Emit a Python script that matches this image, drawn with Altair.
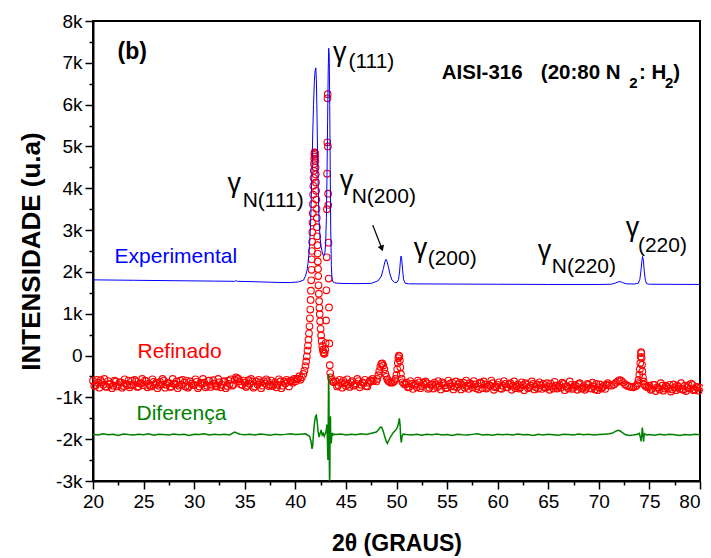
import altair as alt
import pandas as pd

FONT = "Liberation Sans"

# ---------------- Experimental (blue line) ----------------
exp_x = [20, 24, 28, 32, 34, 34.1, 34.3, 36, 38, 39.5,
         40.3, 40.8, 41.0, 41.15, 41.25, 41.35, 41.45, 41.52, 41.58, 41.65,
         41.72, 41.8, 41.88, 41.95, 42.02, 42.08, 42.14, 42.2, 42.27, 42.35,
         42.45, 42.55, 42.65, 42.75, 42.83, 42.92, 43.0, 43.07, 43.13, 43.19,
         43.25, 43.3, 43.35, 43.4, 43.45, 43.5, 43.56, 43.62, 43.72, 43.9,
         44.5, 46, 47.5, 48.2, 48.5, 48.7, 48.85, 48.95, 49.05, 49.2,
         49.35, 49.55, 49.8, 50.05, 50.2, 50.3, 50.38, 50.45, 50.52, 50.6,
         50.7, 50.85, 51.2, 55, 60, 65, 70, 71.2, 71.6, 71.9,
         72.1, 72.35, 72.7, 73.5, 73.9, 74.05, 74.15, 74.25, 74.32, 74.4,
         74.5, 74.6, 74.72, 75, 80]
exp_y = [1810, 1800, 1790, 1780, 1775, 1790, 1775, 1765, 1750, 1745,
         1760, 1800, 1900, 2030, 2200, 2450, 2850, 3250, 3800, 4500,
         5300, 6000, 6550, 6800, 6880, 6600, 5800, 4800, 3900, 3200,
         2800, 2600, 2480, 2400, 2390, 2450, 2700, 3300, 4300, 5600,
         6800, 7350, 7150, 6000, 4400, 3000, 2150, 1850, 1760, 1735,
         1725, 1720, 1725, 1790, 1900, 2080, 2240, 2300, 2260, 2120,
         1950, 1810, 1745, 1750, 1820, 2000, 2250, 2380, 2300, 2050,
         1820, 1730, 1715, 1710, 1705, 1700, 1700, 1705, 1730, 1760,
         1770, 1745, 1715, 1710, 1730, 1820, 2000, 2250, 2370, 2280,
         2000, 1800, 1720, 1705, 1700]

# ---------------- Refinado (red open circles) ----------------
# flat stretches sampled on regular 2-theta grids (start, step, values)
ref_flat1 = (20.0, 0.25, [
    -600, -720, -650, -590, -700, -740, -610, -670, -720, -620,
    -700, -640, -730, -680, -600, -710, -690, -620, -740, -660,
    -710, -610, -680, -740, -630, -650, -720, -690, -600, -700,
    -660, -740, -680, -620, -720, -700, -650, -600, -730, -670,
    -700, -630, -740, -680, -650, -720, -600, -700, -670, -740,
    -640, -700, -620, -730, -680, -720, -580, -540, -620, -700,
    -650, -720, -680, -620, -740, -690, -640, -720, -670, -610,
    -700, -730, -640, -700, -620, -720, -670, -630, -600, -650,
    -620, -560])
ref_flat1b = (20.125, 0.25, [
    -720, -580, -770, -640, -560, -750, -690, -780, -600, -740,
    -640, -770, -570, -710, -760, -600, -580, -750, -670, -560,
    -600, -760, -720, -570, -690, -780, -630, -560, -770, -650,
    -750, -560, -680, -780, -600, -580, -740, -770, -620, -710,
    -570, -780, -650, -560, -760, -600, -750, -590, -720, -560,
    -760, -620, -780, -600, -570, -700, -520, -560, -690, -600,
    -750, -590, -560, -770, -620, -580, -780, -610, -570, -730,
    -600, -690, -760, -570, -780, -620, -580, -740, -610, -560,
    -560, -500])
ref_flat2 = (44.0, 0.25, [-620, -710, -660, -600, -730, -680, -640, -720,
                          -670, -610, -700, -660, -730, -650, -620, -600])
ref_flat2b = (44.125, 0.25, [-740, -580, -770, -660, -570, -750, -610, -700,
                             -560, -760, -640, -580, -740, -600, -560])
ref_flat3 = (51.0, 0.25, [
    -650, -750, -680, -700, -760, -640, -730, -700, -660, -770,
    -690, -650, -760, -720, -640, -710, -770, -680, -650, -740,
    -760, -650, -700, -770, -720, -660, -760, -690, -730, -650,
    -780, -690, -750, -720, -660, -760, -700, -780, -720, -680,
    -760, -660, -720, -780, -690, -760, -710, -660, -780, -720,
    -680, -750, -790, -710, -680, -770, -740, -670, -790, -720,
    -740, -770, -680, -740, -790, -700, -770, -730, -680, -790,
    -730, -770, -700, -790, -740, -680, -760, -790, -720, -700,
    -710])
ref_flat3b = (51.125, 0.25, [
    -760, -610, -800, -680, -600, -780, -650, -620, -800, -700,
    -790, -700, -610, -810, -660, -780, -600, -740, -810, -620,
    -690, -810, -650, -600, -800, -700, -610, -780, -810, -660,
    -620, -790, -700, -600, -820, -740, -640, -800, -610, -760,
    -690, -820, -620, -740, -790, -640, -830, -700, -760, -620,
    -810, -690, -640, -800, -760, -660, -820, -740, -630, -790,
    -700, -650, -830, -740, -620, -800, -700, -820, -660, -780,
    -820, -680, -780, -650, -810, -830, -690, -760, -800, -660])
ref_flat4 = (75.0, 0.25, [-720, -800, -700, -760, -810, -720, -790, -750, -700, -810,
                          -760, -720, -800, -810, -720, -760, -790, -700, -810, -750,
                          -770])
ref_flat4b = (75.125, 0.25, [-820, -700, -850, -770, -660, -840, -720, -790, -860, -690,
                             -830, -750, -660, -820, -850, -710, -670, -830, -760, -840])

ref_pk1_x = [40.5, 40.65, 40.8, 40.9, 41.0, 41.07, 41.14, 41.2, 41.25, 41.3,
             41.35, 41.4, 41.44, 41.48, 41.51, 41.54, 41.57, 41.6, 41.62, 41.64,
             41.66, 41.68, 41.7, 41.72, 41.74, 41.76, 41.78, 41.8, 41.82, 41.84,
             41.86, 41.88, 41.9, 41.92, 41.94, 41.96, 41.98, 42.0, 42.02, 42.04,
             42.06, 42.08, 42.1, 42.12, 42.14, 42.16, 42.18, 42.2, 42.22, 42.24,
             42.26, 42.29, 42.32, 42.35, 42.38, 42.41, 42.45, 42.5, 42.55, 42.6,
             42.66, 42.72, 42.78, 42.84, 42.9, 42.95, 43.0, 43.04, 43.07, 43.1,
             43.12, 43.14, 43.16, 43.18, 43.2, 43.22, 43.24, 43.26, 43.28, 43.3,
             43.33, 43.36, 43.4, 43.45, 43.52, 43.6, 43.7, 43.8]
ref_pk1_y = [-580, -520, -440, -360, -250, -140, -20, 120, 240, 380,
             530, 700, 890, 1100, 1330, 1550, 1800, 2050, 2300, 2500,
             2720, 2950, 3180, 3400, 3620, 3850, 4060, 4250, 4420, 4580,
             4700, 4800, 4850, 4860, 4830, 4760, 4650, 4500, 4330, 4140,
             3940, 3730, 3510, 3290, 3070, 2850, 2640, 2440, 2250, 2070,
             1900, 1680, 1480, 1300, 1140, 990, 820, 640, 480, 350,
             230, 140, 80, 40, 50, 140, 300, 840, 1560, 2350,
             3500, 4350, 5100, 6150, 6250, 5000, 3870, 3600, 2700, 1840,
             1150, 290, -230, -420, -520, -580, -620, -640]
ref_pk2_x = [48.0, 48.1, 48.2, 48.3, 48.4, 48.5, 48.6, 48.7, 48.8, 48.9,
             49.0, 49.1, 49.2, 49.35, 49.5, 49.65, 49.8, 49.9, 50.0, 50.07,
             50.13, 50.18, 50.23, 50.28, 50.33, 50.38, 50.43, 50.5, 50.6, 50.75,
             50.9]
ref_pk2_y = [-620, -560, -470, -370, -270, -200, -190, -240, -330, -430,
             -510, -570, -610, -640, -650, -640, -610, -560, -460, -330,
             -180, -60, 0, -20, -120, -280, -440, -560, -640, -680,
             -690]
ref_pk3_x = [71.25, 71.5, 71.7, 71.9, 72.05, 72.2, 72.4, 72.6, 72.8, 73.0,
             73.2, 73.4, 73.6, 73.75, 73.85, 73.93, 74.0, 74.05, 74.1, 74.14,
             74.17, 74.2, 74.23, 74.27, 74.31, 74.36, 74.42, 74.5, 74.6, 74.75,
             74.9]
ref_pk3_y = [-720, -690, -650, -610, -590, -600, -640, -690, -720, -740,
             -750, -760, -740, -710, -660, -580, -460, -330, -180, -30,
             80, 60, -60, -220, -380, -520, -620, -690, -730, -750,
             -760]

# ---------------- Diferença (green line) ----------------
dif_flat1 = (20.0, 0.5, [
    -1880, -1900, -1870, -1895, -1885, -1910, -1875, -1890, -1900, -1880,
    -1895, -1870, -1905, -1885, -1890, -1900, -1875, -1895, -1880, -1910,
    -1885, -1890, -1870, -1900, -1885, -1895, -1880, -1900, -1830, -1880,
    -1895, -1885, -1900, -1875, -1890, -1905, -1880, -1895, -1885, -1870,
    -1890, -1880, -1870])
dif_pk1_x = [41.2, 41.4, 41.55, 41.65, 41.72, 41.8, 41.9, 42.0, 42.08, 42.15,
             42.25, 42.35, 42.45, 42.55, 42.65, 42.75, 42.85, 42.95, 43.05, 43.12,
             43.18, 43.22, 43.26, 43.29, 43.32, 43.35, 43.38, 43.41, 43.44, 43.47,
             43.5, 43.55, 43.62, 43.7, 43.8]
dif_pk1_y = [-1900, -1930, -2050, -2230, -2150, -1850, -1600, -1450, -1430, -1560,
             -1820, -1950, -1860, -1780, -1900, -1860, -1930, -1870, -1800, -1650,
             -2100, -2500, -1400, -450, -900, -2200, -3000, -2900, -1600, -1450,
             -2000, -2100, -1850, -1900, -1880]
dif_flat2 = (44.0, 0.5, [-1890, -1875, -1900, -1880, -1895, -1870, -1885, -1860, -1830])
dif_pk2_x = [48.2, 48.4, 48.55, 48.7, 48.85, 49.0, 49.1, 49.25, 49.45, 49.65,
             49.85, 50.0, 50.1, 50.2, 50.28, 50.35, 50.42, 50.48, 50.55, 50.65]
dif_pk2_y = [-1780, -1710, -1720, -1820, -1950, -2060, -2100, -2020, -1930, -1850,
             -1800, -1760, -1700, -1620, -1500, -1650, -1980, -2080, -1930, -1880]
dif_flat3 = (51.0, 0.5, [
    -1890, -1900, -1880, -1905, -1885, -1895, -1875, -1900, -1890, -1910,
    -1880, -1895, -1900, -1885, -1870, -1900, -1890, -1905, -1880, -1895,
    -1885, -1900, -1875, -1895, -1890, -1910, -1880, -1900, -1885, -1895,
    -1905, -1880, -1890, -1900, -1875, -1895, -1885, -1900, -1890, -1880,
    -1870])
dif_pk3_x = [71.3, 71.6, 71.9, 72.1, 72.3, 72.6, 73.0, 73.4, 73.8, 74.0,
             74.1, 74.18, 74.24, 74.3, 74.36, 74.42, 74.48, 74.55, 74.7]
dif_pk3_y = [-1860, -1820, -1790, -1800, -1840, -1890, -1910, -1900, -1880, -1860,
             -1950, -2050, -1900, -1720, -1850, -2060, -1900, -1870, -1900]
dif_flat4 = (75.0, 0.5, [-1890, -1905, -1885, -1900, -1880, -1895, -1910, -1890,
                         -1900, -1885, -1895])

# ---------------- axes ----------------
x_ticks = [20, 22.5, 25, 27.5, 30, 32.5, 35, 37.5, 40, 42.5, 45, 47.5, 50,
           52.5, 55, 57.5, 60, 62.5, 65, 67.5, 70, 72.5, 75, 77.5, 80]
y_ticks = [-3000, -2500, -2000, -1500, -1000, -500, 0, 500, 1000, 1500, 2000,
           2500, 3000, 3500, 4000, 4500, 5000, 5500, 6000, 6500, 7000, 7500, 8000]

# ---------------- annotations ----------------
gamma_x = [43.72, 33.3, 44.38, 51.7, 63.97, 72.67]
gamma_y = [7044, 3911, 3983, 2357, 2309, 2859]
sub_text = ["(111)", "N(111)", "N(200)", "(200)", "N(220)", "(220)"]
sub_x = [45.25, 34.79, 45.57, 53.08, 65.35, 73.86]
sub_y = [6869, 3552, 3648, 2165, 1974, 2476]
series_text = ["Experimental", "Refinado", "Diferença"]
series_color = ["#0000ff", "#ff0000", "#008000"]
series_x = [22.13, 24.4, 24.3]
series_y = [2213, -59, -1541]
sample_text = ["AISI-316", "(20:80 N", ":", "H", ")"]
sample_x = [54.47, 64.27, 73.96, 75.2, 77.36]
sample_y = [6606, 6606, 6606, 6606, 6606]
sample_sub_x = [73.0, 76.55]
sample_sub_y = [6398, 6398]
arrow_from = (47.65, 3122)
arrow_to = (48.55, 2560)


def flat(seg):
    start, step, vals = seg
    return [round(start + i * step, 4) for i in range(len(vals))], list(vals)


def seq(parts):
    xs, ys = [], []
    for p in parts:
        if len(p) == 3:
            a, b = flat(p)
        else:
            a, b = p
        xs += a
        ys += b
    return pd.DataFrame({"x": xs, "y": ys})


df_exp = pd.DataFrame({"x": exp_x, "y": exp_y})
df_ref = seq([ref_flat1, ref_flat1b, (ref_pk1_x, ref_pk1_y), ref_flat2, ref_flat2b,
              (ref_pk2_x, ref_pk2_y), ref_flat3, ref_flat3b, (ref_pk3_x, ref_pk3_y),
              ref_flat4, ref_flat4b])
df_dif = seq([dif_flat1, (dif_pk1_x, dif_pk1_y), dif_flat2, (dif_pk2_x, dif_pk2_y),
              dif_flat3, (dif_pk3_x, dif_pk3_y), dif_flat4])

x_axis = alt.Axis(
    values=x_ticks,
    labelExpr="datum.value % 5 === 0 ? datum.label : ''",
    tickSize={"condition": {"test": "datum.value % 5 === 0", "value": 8}, "value": 4},
    labelAlign={"condition": {"test": "datum.value >= 80", "value": "right"}, "value": "center"},
    title="2θ (GRAUS)", titleFontSize=23, titlePadding=21, labelPadding=3,
    labelFlush=False, labelOverlap=False,
)
y_axis = alt.Axis(
    values=y_ticks,
    labelExpr="datum.value % 1000 === 0 ? (datum.value === 0 ? '0' : (datum.value / 1000) + 'k') : ''",
    tickSize={"condition": {"test": "datum.value % 1000 === 0", "value": 8}, "value": 4},
    title="INTENSIDADE (u.a)", titleFontSize=26, titlePadding=11, labelPadding=3,
    labelFlush=False, labelOverlap=False,
)
X = alt.X("x:Q", scale=alt.Scale(domain=[20, 80], nice=False, zero=False), axis=x_axis)
Y = alt.Y("y:Q", scale=alt.Scale(domain=[-3000, 8000], nice=False, zero=False), axis=y_axis)

red = alt.Chart(df_ref).mark_point(shape="circle", filled=False, size=44,
                                   strokeWidth=1.1, color="#ff0000", opacity=1).encode(x=X, y=Y)
blue = alt.Chart(df_exp).mark_line(color="#0000ff", strokeWidth=1).encode(x=X, y=Y, order="x:Q")
green = alt.Chart(df_dif).mark_line(color="#008000", strokeWidth=1.5).encode(x=X, y=Y, order="x:Q")

gam = alt.Chart(pd.DataFrame({"x": gamma_x, "y": gamma_y, "t": ["γ"] * len(gamma_x)})).mark_text(
    align="left", baseline="alphabetic", font=FONT, fontSize=27, color="black"
).encode(x=X, y=Y, text="t:N")
sub = alt.Chart(pd.DataFrame({"x": sub_x, "y": sub_y, "t": sub_text})).mark_text(
    align="left", baseline="alphabetic", font=FONT, fontSize=21, color="black"
).encode(x=X, y=Y, text="t:N")
ser = alt.Chart(pd.DataFrame({"x": series_x, "y": series_y, "t": series_text, "c": series_color})).mark_text(
    align="left", baseline="alphabetic", font=FONT, fontSize=21
).encode(x=X, y=Y, text="t:N", color=alt.Color("c:N", scale=None))
panel = alt.Chart(pd.DataFrame({"x": [22.42], "y": [7091], "t": ["(b)"]})).mark_text(
    align="left", baseline="alphabetic", font=FONT, fontSize=23, fontWeight="bold", color="black"
).encode(x=X, y=Y, text="t:N")
sample = alt.Chart(pd.DataFrame({"x": sample_x, "y": sample_y, "t": sample_text})).mark_text(
    align="left", baseline="alphabetic", font=FONT, fontSize=20.5, fontWeight="bold", color="black"
).encode(x=X, y=Y, text="t:N")
sample_sub = alt.Chart(pd.DataFrame({"x": sample_sub_x, "y": sample_sub_y, "t": ["2", "2"]})).mark_text(
    align="left", baseline="alphabetic", font=FONT, fontSize=15, fontWeight="bold", color="black"
).encode(x=X, y=Y, text="t:N")

arr_df = pd.DataFrame({"x": [arrow_from[0]], "y": [arrow_from[1]],
                       "x2": [arrow_to[0]], "y2": [arrow_to[1]]})
arrow = alt.Chart(arr_df).mark_rule(color="black", strokeWidth=1.2).encode(
    x=X, y=Y, x2="x2:Q", y2="y2:Q")
head = alt.Chart(pd.DataFrame({"x": [arrow_to[0]], "y": [arrow_to[1]]})).mark_point(
    shape="triangle-down", filled=True, size=45, color="black", angle=340, opacity=1
).encode(x=X, y=Y)

chart = alt.layer(red, blue, green, gam, sub, ser, panel, sample, sample_sub, arrow, head).properties(
    width=607, height=460,
    autosize=alt.AutoSizeParams(type="none"),
    padding={"left": 85, "top": 13, "right": 3, "bottom": 78},
).configure_view(stroke="black", strokeWidth=2).configure_axis(
    grid=False, domainColor="black", domainWidth=2, tickColor="black", tickWidth=1.5,
    labelColor="black", labelFont=FONT, labelFontSize=19, titleColor="black",
    titleFont=FONT, titleFontWeight="bold",
)

chart.save("out.html", embed_options={"renderer": "svg", "actions": False})
